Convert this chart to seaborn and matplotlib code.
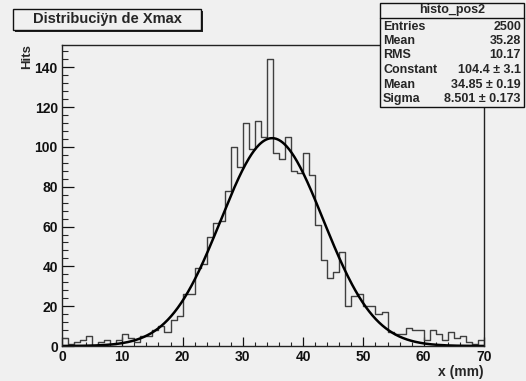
import numpy as np
import pandas as pd
import matplotlib
matplotlib.use("Agg")
import matplotlib.pyplot as plt
from matplotlib.patches import Rectangle
from matplotlib.ticker import MultipleLocator
import seaborn as sns

# ---------------- data ----------------
x_min, x_max, n_bins = 0, 70, 70
counts = [4, 1, 2, 3, 5, 0, 2, 3, 1, 3,
          6, 4, 2, 5, 5, 8, 10, 7, 13, 15,
          26, 26, 39, 41, 55, 62, 63, 78, 100, 90,
          112, 99, 113, 105, 144, 97, 94, 105, 88, 87,
          97, 86, 61, 43, 34, 37, 47, 20, 25, 26,
          20, 20, 16, 17, 7, 6, 6, 9, 8, 8,
          3, 8, 6, 3, 7, 4, 5, 2, 1, 3]
fit_constant = 104.4
fit_mean = 34.85
fit_sigma = 8.501
title_text = "Distribuciÿn de Xmax"
stats_name = "histo_pos2"
stats_labels = ["Entries", "Mean", "RMS", "Constant", "Mean", "Sigma"]
stats_values = ["2500", "35.28", "10.17", "104.4 ± 3.1", "34.85 ± 0.19", "8.501 ± 0.173"]
x_ticks = [0, 10, 20, 30, 40, 50, 60, 70]
y_ticks = [0, 20, 40, 60, 80, 100, 120, 140]
x_label = "x (mm)"
y_label = "Hits"

# ---------------- style ----------------
sns.set_style("ticks")
plt.rcParams['font.family'] = ['Liberation Sans', 'DejaVu Sans']
plt.rcParams['font.weight'] = 'bold'
BG = '#f0f0f0'

W, H = 526, 381
fig = plt.figure(figsize=(W / 100, H / 100), dpi=100, facecolor=BG)

def fx(px):
    return px / W

def fy(py):
    return 1 - py / H

ax_l, ax_r, ax_t, ax_b = 62, 484, 45, 346
ax = fig.add_axes([fx(ax_l), fy(ax_b), fx(ax_r) - fx(ax_l), fy(ax_t) - fy(ax_b)])
ax.set_facecolor(BG)

bin_width = (x_max - x_min) / n_bins
centers = [x_min + bin_width * (i + 0.5) for i in range(n_bins)]
df = pd.DataFrame({"x": centers, "w": counts})
sns.histplot(data=df, x="x", weights="w", bins=n_bins, binrange=(x_min, x_max),
             element="step", fill=False, color="#404040", linewidth=1.0, ax=ax)

xs = np.linspace(x_min, x_max, 500)
fit_df = pd.DataFrame({"x": xs,
                       "y": fit_constant * np.exp(-0.5 * ((xs - fit_mean) / fit_sigma) ** 2)})
sns.lineplot(data=fit_df, x="x", y="y", color="black", linewidth=1.8, ax=ax)

ax.set_xlim(x_min, x_max)
ax.set_ylim(0, max(counts) * 1.05)
ax.set_xlabel("")
ax.set_ylabel("")
ax.set_xticks(x_ticks)
ax.set_yticks(y_ticks)
ax.xaxis.set_minor_locator(MultipleLocator(2))
ax.yaxis.set_minor_locator(MultipleLocator(4))
ax.tick_params(axis='y', which='major', direction='in', length=8.5, width=0.9, pad=3,
               labelsize=10, colors='#111111')
ax.tick_params(axis='y', which='minor', direction='in', length=4.3, width=0.8)
ax.tick_params(axis='x', which='major', direction='in', length=6.5, width=0.9, pad=3,
               labelsize=10, colors='#111111')
ax.tick_params(axis='x', which='minor', direction='in', length=3.2, width=0.8)
for lab in ax.get_xticklabels() + ax.get_yticklabels():
    lab.set_fontweight('bold')
for s in ax.spines.values():
    s.set_visible(True)
    s.set_color('#222222')
    s.set_linewidth(1.0)

# axis titles
fig.text(fx(27), fy(44), y_label, rotation=90, ha='center', va='top',
         fontsize=9.5, fontweight='bold')
fig.text(fx(484), fy(372), x_label, ha='right', va='center',
         fontsize=10, fontweight='bold')

# title box with shadow
tb_l, tb_r, tb_t, tb_b = 13, 201, 9, 30
fig.patches.append(Rectangle((fx(tb_l + 2), fy(tb_b + 2)), fx(tb_r) - fx(tb_l), fy(tb_t) - fy(tb_b),
                             transform=fig.transFigure, facecolor='#222222', edgecolor='none', zorder=5))
fig.patches.append(Rectangle((fx(tb_l), fy(tb_b)), fx(tb_r) - fx(tb_l), fy(tb_t) - fy(tb_b),
                             transform=fig.transFigure, facecolor=BG, edgecolor='#111111',
                             linewidth=1.0, zorder=6))
fig.text(fx((tb_l + tb_r) / 2), fy((tb_t + tb_b) / 2), title_text, ha='center', va='center',
         fontsize=10.5, fontweight='bold', zorder=7)

# stats box
sb_l, sb_r, sb_t, sb_b = 380, 524, 3, 107
fig.patches.append(Rectangle((fx(sb_l), fy(sb_b)), fx(sb_r) - fx(sb_l), fy(sb_t) - fy(sb_b),
                             transform=fig.transFigure, facecolor=BG, edgecolor='#111111',
                             linewidth=1.0, zorder=5))
sep_y = 18
fig.add_artist(plt.Line2D([fx(sb_l), fx(sb_r)], [fy(sep_y), fy(sep_y)],
                          transform=fig.transFigure, color='#111111', linewidth=1.0, zorder=6))
fig.text(fx((sb_l + sb_r) / 2), fy(10.5), stats_name, ha='center', va='center',
         fontsize=9, fontweight='bold', zorder=7)
row_y = [26.5, 41, 55.5, 70, 84.5, 99]
for lab, val, yy in zip(stats_labels, stats_values, row_y):
    fig.text(fx(sb_l + 3), fy(yy), lab, ha='left', va='center', fontsize=9,
             fontweight='bold', zorder=7)
    fig.text(fx(sb_r - 3), fy(yy), val, ha='right', va='center', fontsize=9,
             fontweight='bold', zorder=7)

fig.savefig("out.png", dpi=100, facecolor=BG)
